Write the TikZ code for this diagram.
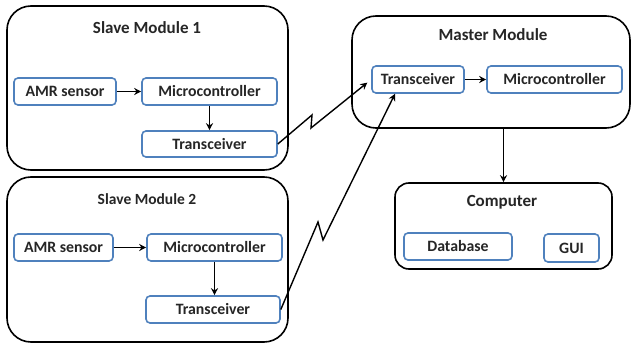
\documentclass[tikz,border=0pt]{standalone}
\usepackage{fontspec}
\setmainfont{Carlito}
\usetikzlibrary{arrows.meta,calc}
\definecolor{boxblue}{RGB}{79,129,189}
\definecolor{txt}{RGB}{38,38,38}
\tikzset{
  outerbox/.style={draw=black, line width=1.6pt, rounded corners=24pt, inner sep=0pt},
  innerbox/.style={draw=boxblue, line width=1.6pt, rounded corners=4pt, fill=white, inner sep=0pt,
     text=txt, font=\fontsize{15.8}{17}\selectfont\bfseries},
  titletext/.style={text=txt, font=\fontsize{17}{19}\selectfont\bfseries, inner sep=0pt},
  conn/.style={line width=1.5pt, -{Stealth[length=7pt,width=7pt]}},
  bolt/.style={line width=1.4pt, -{Stealth[length=7pt,width=7pt]}, line join=miter}
}
\begin{document}
\begin{tikzpicture}[x=1pt,y=-1pt]
\useasboundingbox (0,0) rectangle (632,345);
\fill[white] (0,0) rectangle (632,345);
% Slave Module 1
\node[outerbox, minimum width=281pt, minimum height=164pt] (s1) at (147.5,88) {};
\node[titletext] (s1title) at (147,28) {Slave Module 1};
\node[innerbox, minimum width=102pt, minimum height=27pt] (s1a) at (65,91.5) {AMR sensor};
\node[innerbox, minimum width=135pt, minimum height=27pt] (s1m) at (209.5,91.5) {Microcontroller};
\node[innerbox, minimum width=135pt, minimum height=26pt] (s1t) at (209.5,144) {Transceiver};
\draw[conn] (s1a) -- (s1m);
\draw[conn] (s1m) -- (s1t);
% Slave Module 2
\node[outerbox, minimum width=281pt, minimum height=165pt] (s2) at (147.5,259.5) {};
\node[titletext, font=\fontsize{15.5}{17}\selectfont\bfseries] (s2title) at (147,199) {Slave Module 2};
\node[innerbox, minimum width=99pt, minimum height=27pt] (s2a) at (63.5,247.5) {AMR sensor};
\node[innerbox, minimum width=135pt, minimum height=27pt] (s2m) at (214.5,247.5) {Microcontroller};
\node[innerbox, minimum width=134pt, minimum height=27pt] (s2t) at (213,309.5) {Transceiver};
\draw[conn] (s2a) -- (s2m);
\draw[conn] (s2m.south) -- (s2m.south |- s2t.north);
% Master Module
\node[outerbox, minimum width=278pt, minimum height=112pt] (mm) at (491,72) {};
\node[titletext] (mmtitle) at (493,35) {Master Module};
\node[innerbox, minimum width=92pt, minimum height=27pt] (mt) at (418,79.5) {Transceiver};
\node[innerbox, minimum width=135pt, minimum height=27pt] (mc) at (554.5,79.5) {Microcontroller};
\draw[conn] (mt) -- (mc);
% Computer
\node[outerbox, rounded corners=14pt, minimum width=217pt, minimum height=86pt] (pc) at (503.5,226) {};
\node[titletext] (pctitle) at (502,202) {Computer};
\node[innerbox, minimum width=108pt, minimum height=27pt] (db) at (458,246.5) {Database};
\node[innerbox, minimum width=55pt, minimum height=28pt] (gui) at (571.5,248) {GUI};
\draw[conn] (pc.north |- mm.south) -- (pc.north);
% wireless links
\coordinate (b1p) at (312,115);
\coordinate (b1v) at (311,128);
\draw[bolt, shorten >=5pt] (s1t.east) -- (b1p) -- (b1v) -- (mt.west);
\coordinate (b2p) at (318,222);
\coordinate (b2v) at (323,240);
\coordinate (b2e) at ($(mt.south)+(-23,0)$);
\draw[bolt] (s2t.east) -- (b2p) -- (b2v) -- (b2e);
\end{tikzpicture}
\end{document}
